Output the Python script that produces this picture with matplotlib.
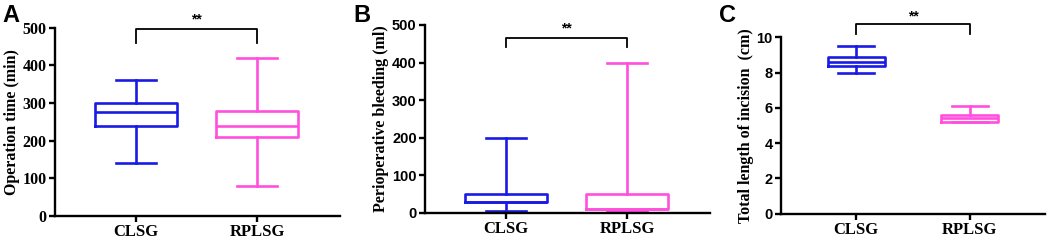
import matplotlib
matplotlib.use("Agg")
import matplotlib.pyplot as plt

# groups
groups = ["CLSG", "RPLSG"]
colors = ["#1a1ae6", "#ff4fdc"]

# box statistics per panel: (whislo, q1, med, q3, whishi)
op_time_clsg = [140, 240, 275, 300, 360]
op_time_rplsg = [80, 210, 240, 280, 420]
bleeding_clsg = [5, 28, 30, 50, 200]
bleeding_rplsg = [5, 10, 10, 50, 400]
incision_clsg = [8.0, 8.4, 8.6, 8.9, 9.5]
incision_rplsg = [5.2, 5.2, 5.4, 5.6, 6.1]

op_ticks = [0, 100, 200, 300, 400, 500]
bleed_ticks = [0, 100, 200, 300, 400, 500]
inc_ticks = [0, 2, 4, 6, 8, 10]

SERIF = ["Liberation Serif", "DejaVu Serif"]
SANS = ["Liberation Sans", "DejaVu Sans"]


def make_stats(rows):
    out = []
    for r in rows:
        out.append(dict(whislo=r[0], q1=r[1], med=r[2], q3=r[3], whishi=r[4], fliers=[]))
    return out


def panel(ax, rows, ylabel, ticks, tickfont, ticksize, bracket, stars_y, box_w, cap_w, xlim):
    stats = make_stats(rows)
    for i, st in enumerate(stats):
        c = colors[i]
        ax.bxp([st], positions=[i], widths=box_w, showfliers=False,
               capwidths=cap_w,
               boxprops=dict(color=c, linewidth=1.9),
               medianprops=dict(color=c, linewidth=1.9),
               whiskerprops=dict(color=c, linewidth=1.9),
               capprops=dict(color=c, linewidth=1.9))
    ax.set_xlim(*xlim)
    ax.set_ylim(ticks[0], ticks[-1])
    ax.set_yticks(ticks)
    ax.set_yticklabels([str(t) for t in ticks], family=tickfont, fontweight="bold", fontsize=ticksize)
    ax.set_xticks([0, 1])
    ax.set_xticklabels(groups, family=SERIF, fontweight="bold", fontsize=12)
    ax.set_ylabel(ylabel, family=SERIF, fontweight="bold", fontsize=11.5, labelpad=2)
    for s in ["top", "right"]:
        ax.spines[s].set_visible(False)
    for s in ["left", "bottom"]:
        ax.spines[s].set_linewidth(1.7)
    ax.tick_params(axis="both", width=1.7, length=4, pad=2)
    # significance bracket
    lo, hi = bracket
    ax.plot([0, 0, 1, 1], [lo, hi, hi, lo], color="black", lw=1.3, clip_on=False)
    ax.text(0.5, stars_y, "**", ha="center", va="center", fontsize=10, fontweight="bold",
            family=SANS, clip_on=False)


fig = plt.figure(figsize=(10.53, 2.43), dpi=100)

axA = fig.add_axes([0.0522, 0.1111, 0.2707, 0.775])
panel(axA, [op_time_clsg, op_time_rplsg], "Operation time (min)", op_ticks, SERIF, 11.5,
      (460, 496), 522, 0.68, 0.33, (-0.669, 0.686 + 1))

axB = fig.add_axes([0.4036, 0.1235, 0.2707, 0.7737])
panel(axB, [bleeding_clsg, bleeding_rplsg], "Perioperative bleeding (ml)", bleed_ticks, SANS, 10.5,
      (442, 465), 492, 0.68, 0.33, (-0.669, 0.686 + 1))

axC = fig.add_axes([0.7417, 0.1206, 0.2507, 0.7259])
panel(axC, [incision_clsg, incision_rplsg], "Total length of incision  (cm)", inc_ticks, SANS, 10.5,
      (10.17, 10.76), 11.2, 0.5, 0.32, (-0.66, 1.66))

fig.text(0.002, 0.985, "A", family=SANS, fontweight="bold", fontsize=17, va="top")
fig.text(0.3355, 0.985, "B", family=SANS, fontweight="bold", fontsize=17, va="top")
fig.text(0.6825, 0.985, "C", family=SANS, fontweight="bold", fontsize=17, va="top")

fig.savefig("out.png", dpi=100)
